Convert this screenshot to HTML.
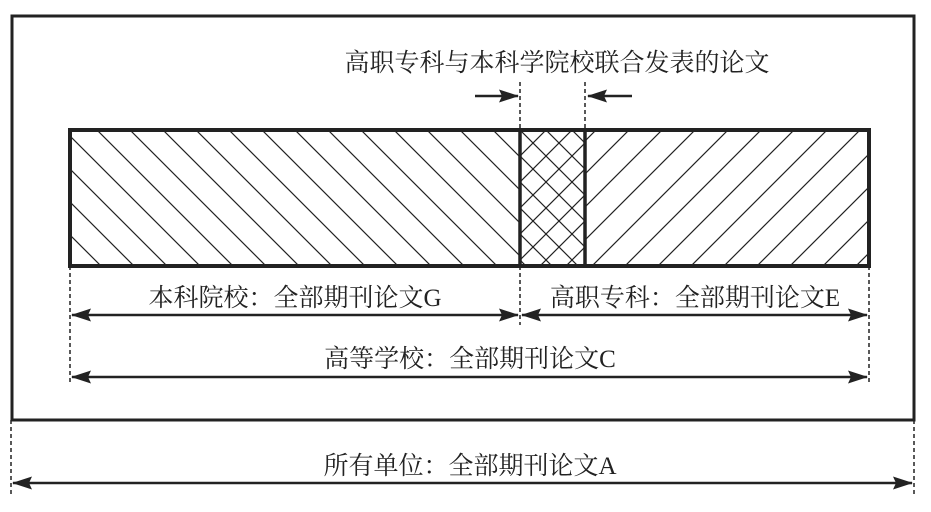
<!DOCTYPE html>
<html><head><meta charset="utf-8"><style>
html,body{margin:0;padding:0;background:#fff;}
svg{display:block;}
text{font-family:"Liberation Serif","Noto Serif CJK SC",serif;font-size:25px;fill:#222;}
</style></head><body>
<svg width="931" height="512" viewBox="0 0 931 512" xmlns="http://www.w3.org/2000/svg">
<defs>
<pattern id="bs" patternUnits="userSpaceOnUse" width="33" height="33">
<path d="M-5,-5 L38,38 M-5,28 L5,38 M28,-5 L38,5" stroke="#222" stroke-width="1.2"/>
</pattern>
<pattern id="fs" patternUnits="userSpaceOnUse" width="33" height="33">
<path d="M-5,38 L38,-5 M-5,5 L5,-5 M28,38 L38,28" stroke="#222" stroke-width="1.2"/>
</pattern>
<pattern id="bs2" patternUnits="userSpaceOnUse" width="26" height="26">
<path d="M-5,-5 L31,31 M-5,21 L5,31 M21,-5 L31,5" stroke="#222" stroke-width="1.2"/>
</pattern>
<pattern id="fs2" patternUnits="userSpaceOnUse" width="26" height="26">
<path d="M-5,31 L31,-5 M-5,5 L5,-5 M21,31 L31,21" stroke="#222" stroke-width="1.2"/>
</pattern>
<marker id="ah" markerWidth="20" markerHeight="13" refX="19" refY="6.5" orient="auto" markerUnits="userSpaceOnUse">
<path d="M0,0 L20,6.5 L0,13 L3,6.5 Z" fill="#222"/>
</marker>
<marker id="at" markerWidth="20" markerHeight="13" refX="1" refY="6.5" orient="auto" markerUnits="userSpaceOnUse">
<path d="M20,0 L0,6.5 L20,13 L17,6.5 Z" fill="#222"/>
</marker>
</defs>
<rect x="12" y="16" width="902" height="404" fill="none" stroke="#222" stroke-width="3"/>
<rect x="70" y="130" width="450" height="136" fill="url(#bs)"/>
<rect x="585" y="130" width="284" height="136" fill="url(#fs)"/>
<rect x="520" y="130" width="65" height="136" fill="url(#bs2)"/>
<rect x="520" y="130" width="65" height="136" fill="url(#fs2)"/>
<rect x="70" y="130" width="799" height="136" fill="none" stroke="#222" stroke-width="4"/>
<line x1="520" y1="130" x2="520" y2="266" stroke="#222" stroke-width="3.5"/>
<line x1="585" y1="130" x2="585" y2="266" stroke="#222" stroke-width="3.5"/>
<g stroke="#222" stroke-width="1.5" stroke-dasharray="4,3" fill="none">
<line x1="520" y1="82" x2="520" y2="130"/>
<line x1="585" y1="82" x2="585" y2="130"/>
<line x1="520" y1="266" x2="520" y2="325"/>
<line x1="70" y1="266" x2="70" y2="385"/>
<line x1="869" y1="266" x2="869" y2="385"/>
<line x1="11" y1="420" x2="11" y2="497"/>
<line x1="914" y1="420" x2="914" y2="497"/>
</g>
<g stroke="#222" stroke-width="2.5" fill="none">
<line x1="475" y1="96" x2="518" y2="96" marker-end="url(#ah)"/>
<line x1="632" y1="96" x2="588" y2="96" marker-end="url(#ah)"/>
<line x1="72" y1="315" x2="518" y2="315" marker-start="url(#at)" marker-end="url(#ah)"/>
<line x1="522" y1="315" x2="867" y2="315" marker-start="url(#at)" marker-end="url(#ah)"/>
<line x1="72" y1="377" x2="867" y2="377" marker-start="url(#at)" marker-end="url(#ah)"/>
<line x1="13" y1="483" x2="912" y2="483" marker-start="url(#at)" marker-end="url(#ah)"/>
</g>
<text x="557" y="71" text-anchor="middle">高职专科与本科学院校联合发表的论文</text>
<text x="295" y="306" text-anchor="middle">本科院校：全部期刊论文G</text>
<text x="695" y="306" text-anchor="middle">高职专科：全部期刊论文E</text>
<text x="470" y="367" text-anchor="middle">高等学校：全部期刊论文C</text>
<text x="470" y="474" text-anchor="middle">所有单位：全部期刊论文A</text>
</svg>
</body></html>
